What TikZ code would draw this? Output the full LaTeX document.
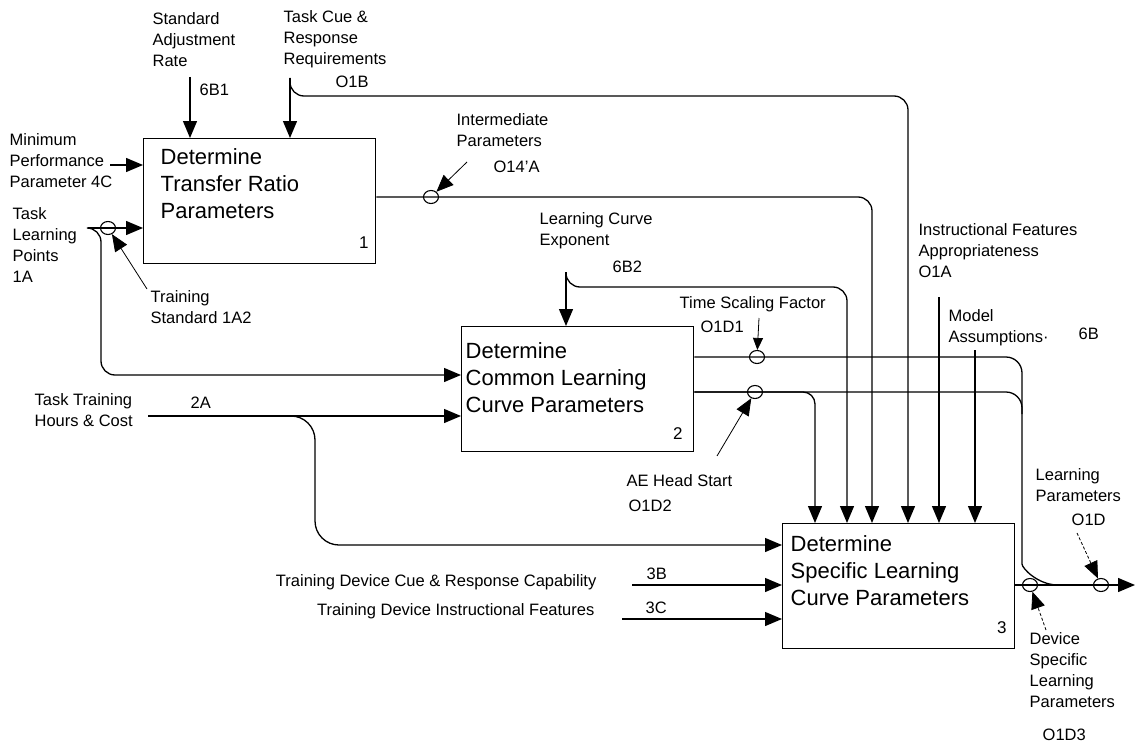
\documentclass[tikz,border=0pt]{standalone}
\usepackage{fontspec}
\setmainfont{Liberation Sans}
\usetikzlibrary{arrows.meta,shapes.geometric}

\begin{document}
\begin{tikzpicture}[x=1pt,y=-1pt,line width=1.3pt,
    flow/.style={-{Triangle[length=17pt,width=14pt]}},
    tipflow/.style={-{Triangle[length=12pt,width=10pt]}},
    proc/.style={draw,line width=1.3pt,minimum width=232pt,minimum height=125pt,anchor=north west,inner sep=0pt},
    ptitle/.style={anchor=north west,align=left,inner sep=0pt,font=\fontsize{22}{27}\selectfont},
    pnum/.style={anchor=south east,inner sep=0pt,font=\fontsize{17}{20}\selectfont},
    lab/.style={anchor=north west,align=left,inner sep=0pt,font=\fontsize{16.5}{21}\selectfont},
    tap/.style={draw,ellipse,line width=1.1pt,minimum width=15pt,minimum height=13pt,inner sep=0pt},
    pointer/.style={line width=0.8pt}]

    \useasboundingbox (0,0) rectangle (1135,752);

    % Activity boxes
    \node[proc] (p1) at (143,138) {};
    \node[proc] (p2) at (461,326) {};
    \node[proc] (p3) at (782,523) {};
    \node[ptitle] (t1) at ([xshift=17pt,yshift=-10pt]p1.north west) {Determine\\Transfer Ratio\\Parameters};
    \node[ptitle] (t2) at ([xshift=4pt,yshift=-16pt]p2.north west) {Determine\\Common Learning\\Curve Parameters};
    \node[ptitle] (t3) at ([xshift=8pt,yshift=-12pt]p3.north west) {Determine\\Specific Learning\\Curve Parameters};
    \node[pnum] (n1) at ([xshift=-7pt,yshift=15pt]p1.south east) {1};
    \node[pnum] (n2) at ([xshift=-11pt,yshift=12pt]p2.south east) {2};
    \node[pnum] (n3) at ([xshift=-8pt,yshift=15pt]p3.south east) {3};

    % Labels
    \node[lab] (sarl) at (152,12) {Standard\\Adjustment\\Rate};
    \node[lab] (sarc) at (199,83) {6B1};
    \node[lab] (tcrl) at (283,10) {Task Cue \&\\Response\\Requirements};
    \node[lab] (tcrc) at (335,75) {O1B};
    \node[lab] (mppl) at (9,133) {Minimum\\Performance\\Parameter 4C};
    \node[lab] (tlpl) at (12,207) {Task\\Learning\\Points\\1A};
    \node[lab] (tsl) at (150,290) {Training\\Standard 1A2};
    \node[lab] (thcl) at (34,393) {Task Training\\Hours \& Cost};
    \node[lab] (thcc) at (190,396) {2A};
    \node[lab] (ipl) at (456,113) {Intermediate\\Parameters};
    \node[lab] (ipc) at (493,160) {O14'A};
    \node[lab] (lcel) at (539,212) {Learning Curve\\Exponent};
    \node[lab] (lcec) at (612,260) {6B2};
    \node[lab] (tsfl) at (679,296) {Time Scaling Factor};
    \node[lab] (tsfc) at (700,320) {O1D1};
    \node[lab] (ifal) at (918,223) {Instructional Features\\Appropriateness\\O1A};
    \node[lab] (masl) at (948,309) {Model\\Assumptions·};
    \node[lab] (masc) at (1078,327) {6B};
    \node[lab] (aehl) at (626,474) {AE Head Start};
    \node[lab] (aehc) at (628,499) {O1D2};
    \node[lab,anchor=north east] (tdcl) at (597,574) {Training Device Cue \& Response Capability};
    \node[lab] (tdcc) at (646,567) {3B};
    \node[lab,anchor=north east] (tdil) at (595,603) {Training Device Instructional Features};
    \node[lab] (tdic) at (645,601) {3C};
    \node[lab] (lpl) at (1035,468) {Learning\\Parameters};
    \node[lab] (lpc) at (1071,513) {O1D};
    \node[lab] (dsl) at (1029,632) {Device\\Specific\\Learning\\Parameters};
    \node[lab] (dsc) at (1042,728) {O1D3};

    % Free ends and bends
    \coordinate (sar) at (190,77);
    \coordinate (tc) at (290,78);
    \coordinate (tco) at (908,96);
    \coordinate (mpp) at (110,165);
    \coordinate (tlp) at (88,228);
    \coordinate (tlq) at (101,375);
    \coordinate (tth) at (148,416);
    \coordinate (ttq) at (315,545);
    \coordinate (ipo) at (872,197);
    \coordinate (lce) at (566,272);
    \coordinate (lcx) at (847,287);
    \coordinate (ifa) at (939,297);
    \coordinate (mas) at (975,350);
    \coordinate (m1) at (1022,357);
    \coordinate (m2) at (1022,392);
    \coordinate (d1) at (815,392);
    \coordinate (mv) at (1022,548);
    \coordinate (mj) at (1058,585);
    \coordinate (tdc) at (632,585);
    \coordinate (tdi) at (622,619);
    \coordinate (lpo) at (1135,585);

    % Box 1 inputs
    \foreach \c in {sar,tc} \draw[flow] (\c) -- (\c |- p1.north);
    \foreach \c in {mpp,tlp} \draw[flow] (\c) -- (\c -| p1.west);

    % Box 2 inputs
    \draw[flow,rounded corners=14] (tlp) -| (tlq) -- (tlq -| p2.west);
    \draw[flow] (tth) -- (tth -| p2.west);
    \draw[flow] (lce) -- (lce |- p2.north);

    % Box 3 controls and inputs
    \draw[flow,rounded corners=14] (tc) |- (tco) -- (tco |- p3.north);
    \draw[flow,rounded corners=14] (p1.east |- ipo) -- (ipo) -- (ipo |- p3.north);
    \draw[flow,rounded corners=14] (lce) |- (lcx) -- (lcx |- p3.north);
    \foreach \c in {ifa,mas} \draw[flow] (\c) -- (\c |- p3.north);
    \draw[flow,rounded corners=12] (p2.east |- d1) -| (d1 |- p3.north);
    \draw[flow,rounded corners=24] (tth) -| (ttq) -- (ttq -| p3.west);
    \foreach \c in {tdc,tdi} \draw[flow] (\c) -- (\c -| p3.west);

    % Box 2 outputs run on to the result
    \draw[rounded corners=16] (p2.east |- m1) -| (mv) to[out=-90,in=180] (mj);
    \draw[rounded corners=16] (p2.east |- m2) -| ([yshift=-22pt]m2);
    \draw[flow] (p3.east |- lpo) -- (lpo);

    % Taps on the arrows
    \node[tap] (tpa) at (108,228) {};
    \node[tap] (tpb) at (431,197) {};
    \node[tap] (tpc) at (757,357) {};
    \node[tap] (tpd) at (755,392) {};
    \node[tap] (tpe) at (1030,585) {};
    \node[tap] (tpf) at (1101,585) {};

    % Pointers from labels to taps
    \coordinate (tsa) at (147,289);
    \coordinate (ipa) at (467,162);
    \coordinate (tsf) at (759,318);
    \coordinate (aeh) at (717,456);
    \coordinate (lpa) at (1077,533);
    \coordinate (dsa) at (1046,630);
    \draw[flow,pointer] (tsa) -- (tpa);
    \draw[flow,pointer] (ipa) -- (tpb);
    \draw[tipflow,pointer] (tsf) -- (tpc);
    \draw[flow,pointer] (aeh) -- (tpd);
    \draw[flow,pointer,densely dashed] (lpa) -- (tpf);
    \draw[flow,pointer,densely dashed] (dsa) -- (tpe);

\end{tikzpicture}
\end{document}
